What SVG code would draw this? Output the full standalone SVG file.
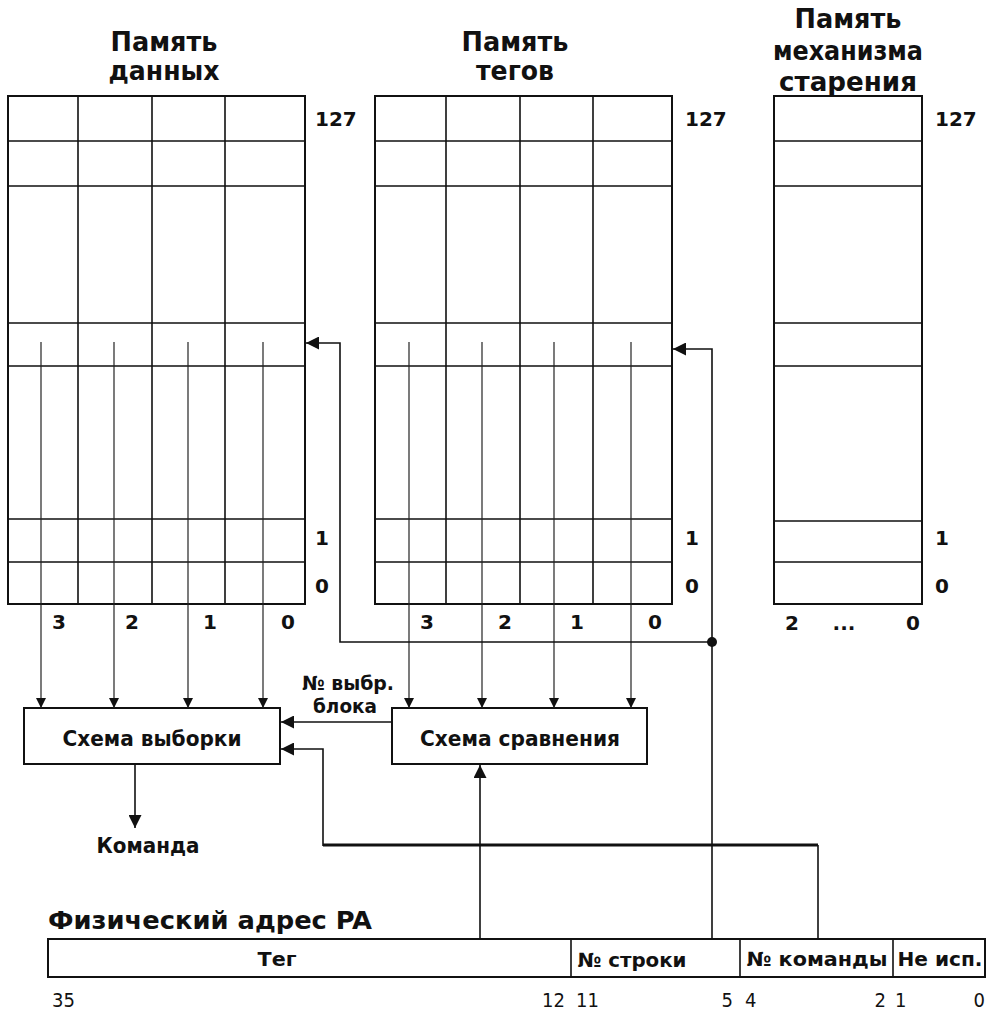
<svg xmlns="http://www.w3.org/2000/svg" width="988" height="1011" viewBox="0 0 988 1011">
  <style>
    .bg { fill: #ffffff; }
    .box { fill: #ffffff; stroke: #111111; stroke-width: 2; }
    .grid { fill: none; stroke: #111111; stroke-width: 1.6; }
    .rd { fill: none; stroke: #222222; stroke-width: 1.2; }
    .wire { fill: none; stroke: #111111; stroke-width: 1.6; }
    .bus { fill: none; stroke: #111111; stroke-width: 3.2; }
    .title { font-family: "DejaVu Sans", Verdana, sans-serif; font-weight: bold; font-size: 26px; fill: #111111; text-anchor: middle; }
    .num { font-family: "DejaVu Sans", Verdana, sans-serif; font-weight: bold; font-size: 20px; fill: #111111; }
    .lbl { font-family: "DejaVu Sans", Tahoma, sans-serif; font-weight: bold; font-stretch: condensed; font-size: 22px; fill: #111111; text-anchor: middle; }
    .bit { font-family: "DejaVu Sans", Tahoma, sans-serif; font-stretch: condensed; font-size: 20px; fill: #111111; }
    .mid { text-anchor: middle; }
    .end { text-anchor: end; }
  </style>
  <defs>
    <marker id="arrow" viewBox="0 0 10 10" refX="10" refY="5" markerWidth="10" markerHeight="10" markerUnits="userSpaceOnUse" orient="auto">
      <path d="M0,0 L10,5 L0,10 Z" fill="#111111"/>
    </marker>
    <marker id="arrowL" viewBox="0 0 12 12" refX="12" refY="6" markerWidth="13" markerHeight="13" markerUnits="userSpaceOnUse" orient="auto">
      <path d="M0,0 L12,6 L0,12 Z" fill="#111111"/>
    </marker>
  </defs>

  <rect class="bg" x="0" y="0" width="988" height="1011"/>

  <!-- Data memory -->
  <g id="data-memory">
    <text class="title" x="164" y="51" textLength="107" lengthAdjust="spacingAndGlyphs">Память</text>
    <text class="title" x="164" y="80" textLength="111" lengthAdjust="spacingAndGlyphs">данных</text>
    <rect class="box" x="8" y="96" width="297" height="508"/>
    <path class="grid" d="M78,96 V604 M152,96 V604 M225,96 V604 M8,141 H305 M8,186 H305 M8,323 H305 M8,366 H305 M8,519 H305 M8,562 H305"/>
    <text class="num" x="315" y="126">127</text>
    <text class="num" x="315" y="545">1</text>
    <text class="num" x="315" y="593">0</text>
    <text class="num mid" x="59" y="629">3</text>
    <text class="num mid" x="132" y="629">2</text>
    <text class="num mid" x="210" y="629">1</text>
    <text class="num mid" x="288" y="629">0</text>
  </g>

  <!-- Tag memory -->
  <g id="tag-memory">
    <text class="title" x="515" y="51" textLength="107" lengthAdjust="spacingAndGlyphs">Память</text>
    <text class="title" x="515" y="80" textLength="78" lengthAdjust="spacingAndGlyphs">тегов</text>
    <rect class="box" x="375" y="96" width="297" height="508"/>
    <path class="grid" d="M446,96 V604 M520,96 V604 M593,96 V604 M375,141 H672 M375,186 H672 M375,323 H672 M375,366 H672 M375,519 H672 M375,562 H672"/>
    <text class="num" x="685" y="126">127</text>
    <text class="num" x="685" y="545">1</text>
    <text class="num" x="685" y="593">0</text>
    <text class="num mid" x="427" y="629">3</text>
    <text class="num mid" x="505" y="629">2</text>
    <text class="num mid" x="577" y="629">1</text>
    <text class="num mid" x="655" y="629">0</text>
  </g>

  <!-- Aging mechanism memory -->
  <g id="aging-memory">
    <text class="title" x="848" y="28" textLength="107" lengthAdjust="spacingAndGlyphs">Память</text>
    <text class="title" x="848" y="60" textLength="150" lengthAdjust="spacingAndGlyphs">механизма</text>
    <text class="title" x="848" y="91" textLength="138" lengthAdjust="spacingAndGlyphs">старения</text>
    <rect class="box" x="774" y="96" width="148" height="508"/>
    <path class="grid" d="M774,141 H922 M774,186 H922 M774,323 H922 M774,366 H922 M774,521 H922 M774,562 H922"/>
    <text class="num" x="935" y="126">127</text>
    <text class="num" x="935" y="545">1</text>
    <text class="num" x="935" y="593">0</text>
    <text class="num mid" x="792" y="630">2</text>
    <text class="num mid" x="844" y="630">...</text>
    <text class="num mid" x="913" y="630">0</text>
  </g>

  <!-- Selection circuit -->
  <g id="select-circuit">
    <rect class="box" x="24" y="708" width="256" height="56"/>
    <text class="lbl" x="152" y="746" textLength="179" lengthAdjust="spacingAndGlyphs">Схема выборки</text>
  </g>

  <!-- Compare circuit -->
  <g id="compare-circuit">
    <rect class="box" x="392" y="708" width="255" height="56"/>
    <text class="lbl" x="520" y="746" textLength="200" lengthAdjust="spacingAndGlyphs">Схема сравнения</text>
  </g>

  <!-- Output label -->
  <g id="output">
    <text class="lbl" x="148" y="853" textLength="103" lengthAdjust="spacingAndGlyphs">Команда</text>
  </g>

  <!-- Physical address register -->
  <g id="physical-address">
    <text class="lbl" x="48" y="929" style="text-anchor:start;font-size:25px" textLength="324" lengthAdjust="spacingAndGlyphs">Физический адрес PA</text>
    <rect class="box" x="48" y="939" width="937" height="38"/>
    <path class="grid" d="M571,939 V977 M740,939 V977 M893,939 V977"/>
    <text class="lbl" x="277" y="966" style="font-size:20px" textLength="39" lengthAdjust="spacingAndGlyphs">Тег</text>
    <text class="lbl" x="632" y="967" style="font-size:20px" textLength="109" lengthAdjust="spacingAndGlyphs">№ строки</text>
    <text class="lbl" x="817" y="966" style="font-size:20px" textLength="141" lengthAdjust="spacingAndGlyphs">№ команды</text>
    <text class="lbl" x="940" y="966" style="font-size:20px" textLength="85" lengthAdjust="spacingAndGlyphs">Не исп.</text>
    <text class="bit" x="52" y="1007">35</text>
    <text class="bit end" x="565" y="1007">12</text>
    <text class="bit" x="576" y="1007">11</text>
    <text class="bit end" x="733" y="1007">5</text>
    <text class="bit" x="745" y="1007">4</text>
    <text class="bit end" x="886" y="1007">2</text>
    <text class="bit" x="895" y="1007">1</text>
    <text class="bit end" x="985" y="1007">0</text>
  </g>

  <!-- Connectors -->
  <g id="connectors">
    <!-- data words read out to the selection circuit -->
    <path class="rd" d="M41,342 V708" marker-end="url(#arrow)"/>
    <path class="rd" d="M114,342 V708" marker-end="url(#arrow)"/>
    <path class="rd" d="M188,342 V708" marker-end="url(#arrow)"/>
    <path class="rd" d="M263,342 V708" marker-end="url(#arrow)"/>
    <!-- tags read out to the compare circuit -->
    <path class="rd" d="M409,342 V708" marker-end="url(#arrow)"/>
    <path class="rd" d="M482,342 V708" marker-end="url(#arrow)"/>
    <path class="rd" d="M554,342 V708" marker-end="url(#arrow)"/>
    <path class="rd" d="M631,342 V708" marker-end="url(#arrow)"/>
    <!-- row index from the address to both memories -->
    <path class="wire" d="M712,939 V349 H673" marker-end="url(#arrowL)"/>
    <path class="wire" d="M712,642 H340 V343 H306" marker-end="url(#arrowL)"/>
    <circle cx="712" cy="642" r="5" fill="#111111"/>
    <!-- selected block number -->
    <path class="wire" d="M392,722 H281" marker-end="url(#arrowL)"/>
    <text class="lbl" x="348" y="690" style="font-size:20px" textLength="92" lengthAdjust="spacingAndGlyphs">№ выбр.</text>
    <text class="lbl" x="345" y="713" style="font-size:20px" textLength="64" lengthAdjust="spacingAndGlyphs">блока</text>
    <!-- instruction number to the selection circuit -->
    <path class="wire" d="M818,939 V845"/>
    <path class="bus" d="M818,845 H323"/>
    <path class="wire" d="M323,846 V749 H281" marker-end="url(#arrowL)"/>
    <!-- tag field to the compare circuit -->
    <path class="wire" d="M480,939 V765" marker-end="url(#arrowL)"/>
    <!-- selected instruction out -->
    <path class="wire" d="M135,764 V828" marker-end="url(#arrowL)"/>
  </g>
</svg>
